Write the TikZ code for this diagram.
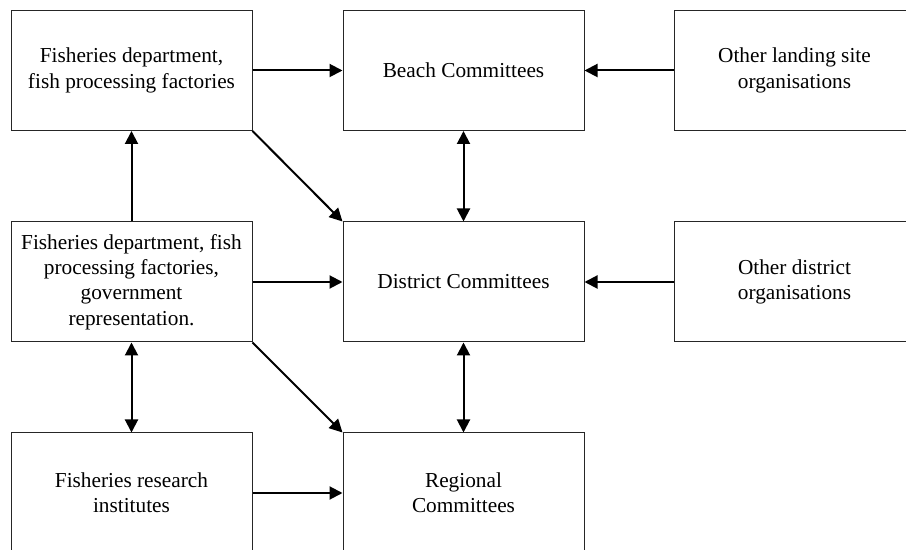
\documentclass[tikz,border=0pt]{standalone}
\usepackage{fontspec}
\setmainfont{Liberation Serif}
\usetikzlibrary{arrows.meta}

\begin{document}
\begin{tikzpicture}[x=0.5pt,y=-0.5pt]

\tikzset{box/.style = {shape=rectangle,draw=black!85,line width=0.5pt,minimum width=120.5pt,minimum height=60pt,align=center,inner sep=0pt,font=\fontsize{10.65}{12.65}\selectfont}}
\tikzset{link/.style = {-{Triangle[length=6.5pt,width=6.5pt]},line width=1pt}}
\tikzset{both/.style = {{Triangle[length=6.5pt,width=6.5pt]}-{Triangle[length=6.5pt,width=6.5pt]},line width=1pt}}

\clip (0,0) rectangle (906,550);

\node[box] (fd) at (131.5,70.5) {Fisheries department,\\fish processing factories};
\node[box] (bc) at (463.5,70.5) {Beach Committees};
\node[box] (ol) at (794.5,70.5) {Other landing site\\organisations};

\node[box] (fdg) at (131.5,282) {Fisheries department, fish\\processing factories,\\government\\representation.};
\node[box] (dc) at (463.5,282) {District Committees};
\node[box] (od) at (794.5,282) {Other district\\organisations};

\node[box] (fri) at (131.5,493) {Fisheries research\\institutes};
\node[box] (rc) at (463.5,493) {Regional\\Committees};

\draw[link] (fd) -- (bc);
\draw[link] (ol) -- (bc);
\draw[link] (fd.south east) -- (dc.north west);
\draw[link] (fdg) -- (fd);
\draw[link] (fdg) -- (dc);
\draw[link] (od) -- (dc);
\draw[link] (fdg.south east) -- (rc.north west);
\draw[link] (fri) -- (rc);

\draw[both] (bc) -- (dc);
\draw[both] (dc) -- (rc);
\draw[both] (fdg) -- (fri);

\end{tikzpicture}
\end{document}
